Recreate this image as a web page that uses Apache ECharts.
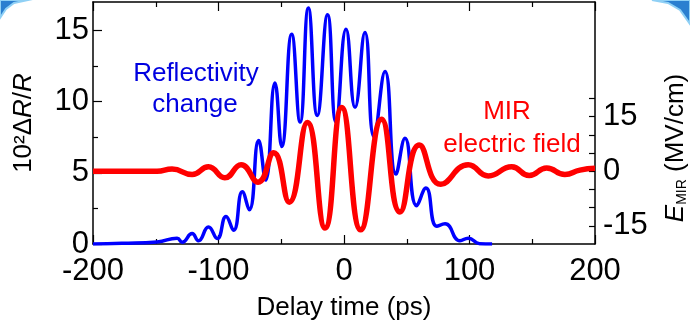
<!DOCTYPE html>
<html>
<head>
<meta charset="utf-8">
<script src="https://cdn.jsdelivr.net/npm/echarts@6/dist/echarts.min.js"></script>
<style>
  html, body { margin: 0; padding: 0; background: #fff; }
  #chart { width: 690px; height: 326px; }
</style>
</head>
<body>
<div id="chart"></div>
<script>
// Reflectivity change (left axis, 10^2 dR/R) at peaks and troughs
const reflTime = [-200, -177, -149, -133, -129, -121, -116, -108, -101, -94, -88, -81, -75.5, -68, -62.5, -55, -49.6, -41.7, -35, -28.4, -21.3, -13.1, -6.4, 1.6, 8.8, 16.7, 23.9, 32.7, 41.4, 48.6, 57.9, 65.3, 73.9, 80.5, 92.4, 99, 108, 118]
const reflValue = [0, 0.05, 0.14, 0.41, 0.12, 0.73, 0.23, 1.19, 0.38, 1.94, 0.96, 3.67, 2.4, 7.27, 4.49, 11.31, 6.85, 14.74, 8.57, 16.57, 9.03, 16.11, 8.57, 15.08, 9.6, 14.85, 7.54, 12.11, 4.91, 7.42, 2.69, 3.93, 1.25, 1.42, 0.23, 0.41, 0.02, 0]

// MIR electric field (right axis, MV/cm)
const fieldTime = [-200, -149, -137, -121, -108, -95, -82, -68.5, -56, -43.6, -29.2, -15.1, -1.8, 13.3, 30, 44.6, 60, 77.1, 99, 115, 133.6, 147.6, 161.5, 176, 188, 200]
const fieldValue = [0, 0, 0.6, -0.9, 1.2, -1.8, 1.8, -3.0, 5.1, -8.5, 13.4, -15.6, 17.5, -16.1, 14.3, -11.2, 7.2, -3.6, 1.8, -1.3, 1.2, -1.2, 0.9, -0.9, 0.3, 0.8]

const xLabels = [-200, -100, 0, 100, 200]
const leftLabels = [0, 5, 10, 15]
const leftMinor = [2.5, 7.5, 12.5]
const rightLabels = [-15, 0, 15]
const rightTicks = [-15, -10, -5, 0, 5, 10, 15, 20]

const FONT = 'Liberation Sans'
const chart = echarts.init(document.getElementById('chart'))

const axisLine = { show: true, onZero: false, lineStyle: { color: '#000', width: 1.5 } }

const option = {
  animation: false,
  textStyle: { fontFamily: FONT },
  grid: { left: 93, right: 95, top: 2, bottom: 76 },
  xAxis: [
    {
      type: 'value', min: -200, max: 200, interval: 100,
      axisLine: axisLine,
      axisTick: { inside: true, length: 9, lineStyle: { color: '#000', width: 1.2 } },
      minorTick: { show: true, splitNumber: 2, length: 5, lineStyle: { color: '#000', width: 1.2 } },
      splitLine: { show: false },
      axisLabel: { customValues: xLabels, fontSize: 31, color: '#000', margin: 12, fontFamily: FONT },
      name: 'Delay time (ps)', nameLocation: 'middle', nameGap: 51,
      nameTextStyle: { fontSize: 26, color: '#000', fontFamily: FONT },
    },
    {
      type: 'value', position: 'top', min: -200, max: 200, interval: 100,
      axisLine: axisLine,
      axisTick: { inside: true, length: 9, lineStyle: { color: '#000', width: 1.2 } },
      minorTick: { show: true, splitNumber: 2, length: 5, lineStyle: { color: '#000', width: 1.2 } },
      splitLine: { show: false },
      axisLabel: { show: false },
    },
  ],
  yAxis: [
    {
      type: 'value', min: 0, max: 17, position: 'left',
      axisLine: axisLine,
      axisTick: { inside: true, length: 9, customValues: leftLabels, lineStyle: { color: '#000', width: 1.2 } },
      splitLine: { show: false },
      axisLabel: { customValues: leftLabels, fontSize: 31, color: '#000', margin: 4, fontFamily: FONT },
      name: '10²Δ{i|R}/{i|R}', nameLocation: 'middle', nameGap: 56,
      nameTextStyle: {
        fontSize: 26, color: '#000', fontFamily: FONT,
        rich: { i: { fontSize: 26, fontStyle: 'italic', fontFamily: FONT, color: '#000' } },
      },
    },
    {
      type: 'value', min: -20, max: 46.5, position: 'right',
      axisLine: axisLine,
      axisTick: { inside: true, length: 6, customValues: rightTicks, lineStyle: { color: '#000', width: 1.2 } },
      splitLine: { show: false },
      axisLabel: { customValues: rightLabels, fontSize: 31, color: '#000', margin: 8, fontFamily: FONT },
    },
    {
      // minor ticks for the left axis
      type: 'value', min: 0, max: 17, position: 'left',
      axisLine: { show: false, onZero: false },
      axisTick: { inside: true, length: 5, customValues: leftMinor, lineStyle: { color: '#000', width: 1.2 } },
      splitLine: { show: false },
      axisLabel: { show: false },
    },
  ],
  series: [
    {
      name: 'Reflectivity change', type: 'line', xAxisIndex: 0, yAxisIndex: 0,
      data: reflTime.map((t, i) => [t, reflValue[i]]),
      showSymbol: false, smooth: 0.5,
      lineStyle: { color: '#0000ff', width: 3.5 },
      z: 2,
    },
    {
      name: 'MIR electric field', type: 'line', xAxisIndex: 0, yAxisIndex: 1,
      data: fieldTime.map((t, i) => [t, fieldValue[i]]),
      showSymbol: false, smooth: 0.5,
      lineStyle: { color: '#ff0000', width: 5.5 },
      z: 3,
    },
  ],
  graphic: [
    // slide corner decorations
    { type: 'polygon', shape: { points: [[0, 0], [0, 18], [6, 9], [14, 3], [28, 0]] }, style: { fill: '#2a7fd0', stroke: '#8fd0f5', lineWidth: 2 } },
    { type: 'polygon', shape: { points: [[652, 0], [668, 3], [680, 10], [690, 24], [690, 0]] }, style: { fill: '#2a7fd0', stroke: '#8fd0f5', lineWidth: 2 } },
    { type: 'text', x: 196, y: 74, style: { text: 'Reflectivity', font: '26px "Liberation Sans"', fill: '#0000e0', align: 'center', verticalAlign: 'middle' } },
    { type: 'text', x: 195, y: 105, style: { text: 'change', font: '26px "Liberation Sans"', fill: '#0000e0', align: 'center', verticalAlign: 'middle' } },
    { type: 'text', x: 507, y: 112, style: { text: 'MIR', font: '26px "Liberation Sans"', fill: '#ff0000', align: 'center', verticalAlign: 'middle' } },
    { type: 'text', x: 512, y: 145, style: { text: 'electric field', font: '26px "Liberation Sans"', fill: '#ff0000', align: 'center', verticalAlign: 'middle' } },
    {
      type: 'text', x: 676, y: 148, rotation: Math.PI / 2,
      style: {
        text: '{i|E}{s|MIR} (MV/cm)', align: 'center', verticalAlign: 'middle',
        font: '26px "Liberation Sans"', fill: '#000',
        rich: {
          i: { fontSize: 26, fontStyle: 'italic', fontFamily: FONT, fill: '#000' },
          s: { fontSize: 14, fontFamily: FONT, fill: '#000', verticalAlign: 'bottom', padding: [8, 0, 0, 0] },
        },
      },
    },
  ],
}

chart.setOption(option)
window.addEventListener('resize', () => chart.resize())
</script>
</body>
</html>
